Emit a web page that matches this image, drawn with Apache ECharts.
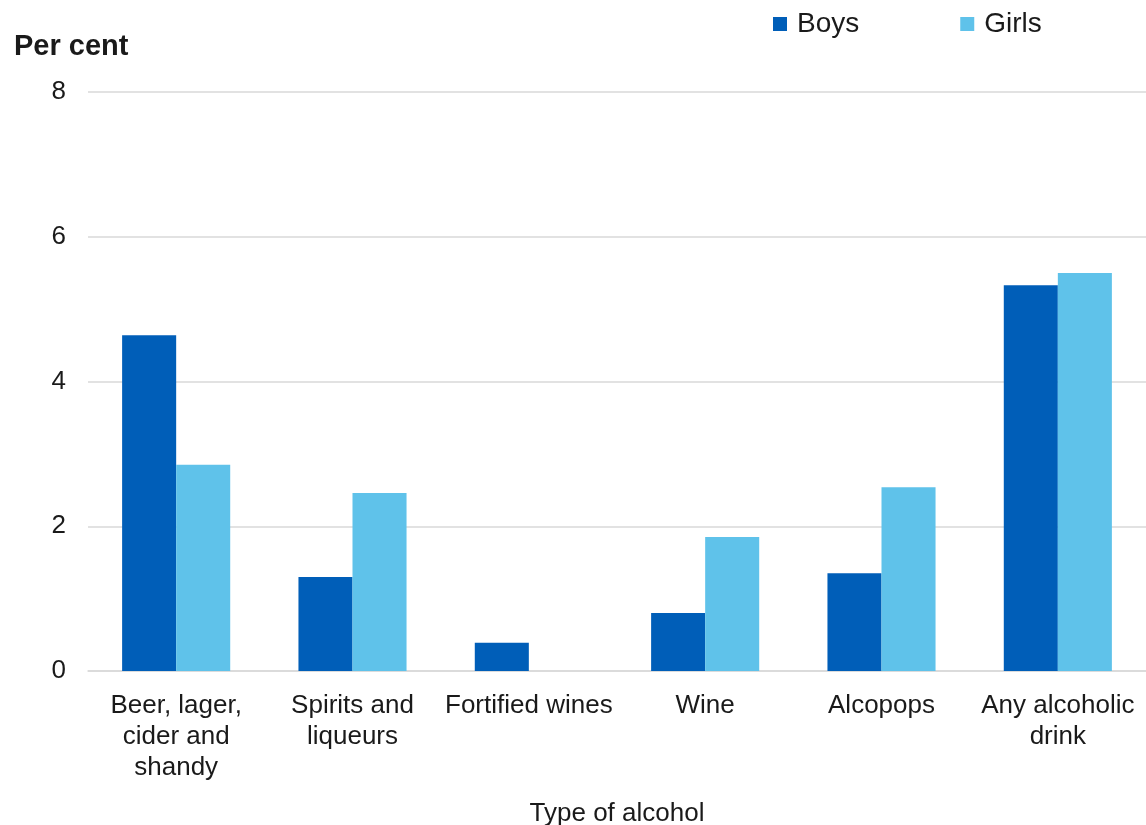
<!DOCTYPE html>
<html>
<head>
<meta charset="utf-8">
<script src="https://cdn.jsdelivr.net/npm/echarts@6/dist/echarts.min.js"></script>
<style>
  html, body { margin: 0; padding: 0; background: #fff; }
  #main { width: 1146px; height: 825px; }
</style>
</head>
<body>
<div id="main"></div>
<script>
// categories on the x axis (line breaks as in the picture)
let categories = [
    'Beer, lager,\ncider and\nshandy',
    'Spirits and\nliqueurs',
    'Fortified wines',
    'Wine',
    'Alcopops',
    'Any alcoholic\ndrink'
];
let boys = [4.64, 1.30, 0.39, 0.80, 1.35, 5.33];
let girls = [2.85, 2.46, 0, 1.85, 2.54, 5.50];
let yTicks = [0, 2, 4, 6, 8];

let myChart = echarts.init(document.getElementById('main'));
let font = 'Liberation Sans, Arial, sans-serif';

let option = {
    backgroundColor: '#ffffff',
    textStyle: { fontFamily: font },
    title: {
        text: 'Per cent',
        left: 9,
        top: 27,
        textStyle: { fontSize: 29, fontWeight: 'bold', color: '#1a1a1a', fontFamily: font }
    },
    legend: {
        data: ['Boys', 'Girls'],
        left: 768,
        top: 5,
        icon: 'rect',
        itemWidth: 14,
        itemHeight: 14,
        itemGap: 101,
        textStyle: { fontSize: 28, color: '#1a1a1a', fontFamily: font, padding: [0, 0, 0, 5] }
    },
    grid: {
        left: 88,
        right: 0,
        top: 92,
        bottom: 154,
        containLabel: false,
        outerBoundsMode: 'none'
    },
    xAxis: {
        type: 'category',
        data: categories,
        name: 'Type of alcohol',
        nameLocation: 'middle',
        nameGap: 130,
        nameTextStyle: { fontSize: 26, color: '#1a1a1a', fontFamily: font },
        axisLine: { show: true, lineStyle: { color: '#d9d9d9', width: 1.5 } },
        axisTick: { show: false },
        axisLabel: {
            fontSize: 26,
            color: '#1a1a1a',
            lineHeight: 31,
            margin: 19,
            interval: 0,
            fontFamily: font
        }
    },
    yAxis: {
        type: 'value',
        min: yTicks[0],
        max: yTicks[yTicks.length - 1],
        interval: 2,
        axisLine: { show: false },
        axisTick: { show: false },
        splitLine: { lineStyle: { color: '#d9d9d9', width: 1.5 } },
        axisLabel: { fontSize: 26, color: '#1a1a1a', margin: 22, padding: [4, 0, 0, 0], fontFamily: font }
    },
    series: [
        {
            name: 'Boys',
            type: 'bar',
            data: boys,
            barGap: '0%',
            barCategoryGap: '38.7%',
            itemStyle: { color: '#005EB8' }
        },
        {
            name: 'Girls',
            type: 'bar',
            data: girls,
            itemStyle: { color: '#5FC2EA' }
        }
    ]
};

myChart.setOption(option);
</script>
</body>
</html>
